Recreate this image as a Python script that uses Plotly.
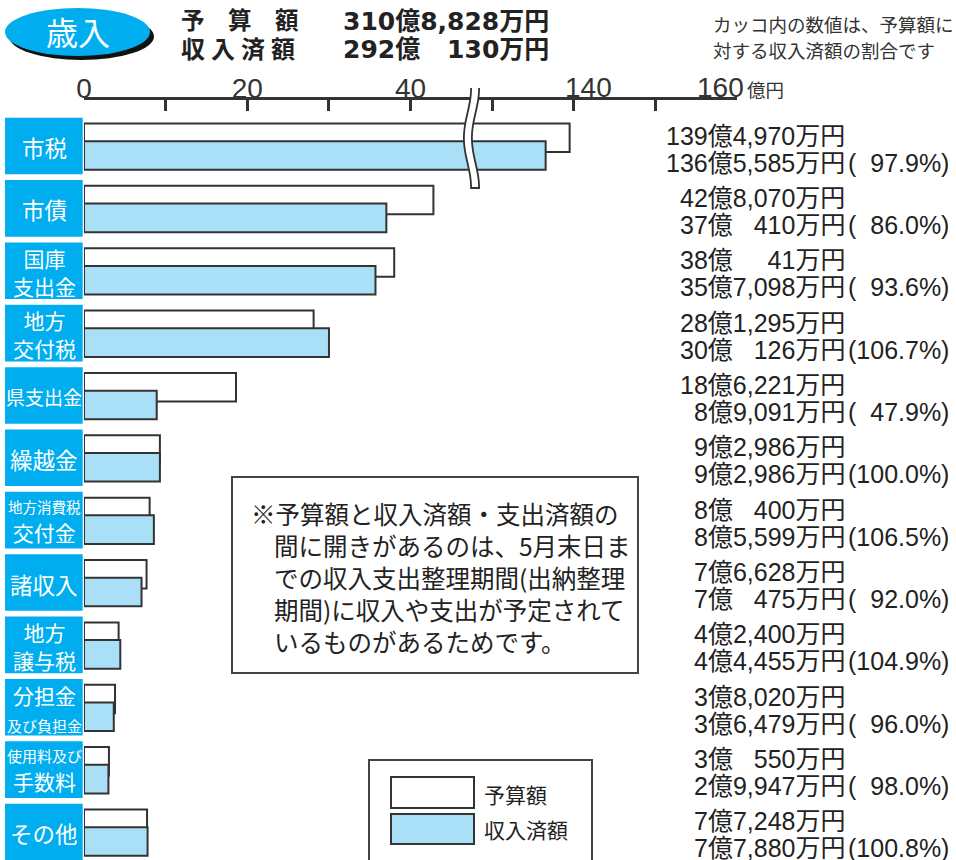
import math
import plotly.graph_objects as go

# ---------------- data ----------------
categories = ["市税", "市債", "国庫支出金", "地方交付税", "県支出金", "繰越金",
              "地方消費税交付金", "諸収入", "地方譲与税", "分担金及び負担金",
              "使用料及び手数料", "その他"]
label_lines = [["市税"], ["市債"], ["国庫", "支出金"], ["地方", "交付税"], ["県支出金"],
               ["繰越金"], ["地方消費税", "交付金"], ["諸収入"], ["地方", "譲与税"],
               ["分担金", "及び負担金"], ["使用料及び", "手数料"], ["その他"]]
# amounts in 億円
budget = [139.4970, 42.8070, 38.0041, 28.1295, 18.6221, 9.2986,
          8.0400, 7.6628, 4.2400, 3.8020, 3.0550, 7.7248]
actual = [136.5585, 37.0410, 35.7098, 30.0126, 8.9091, 9.2986,
          8.5599, 7.0475, 4.4455, 3.6479, 2.9947, 7.7880]
ratio_pct = ["97.9", "86.0", "93.6", "106.7", "47.9", "100.0",
             "106.5", "92.0", "104.9", "96.0", "98.0", "100.8"]
total_budget = 310.8828
total_actual = 292.0130
major_tick_values = [0, 20, 40, 140, 160]
minor_tick_values = [0, 10, 20, 30, 40, 130, 140, 150, 160]
break_lo, break_hi = 48, 128   # axis break (values skipped)

# ---------------- styles ----------------
BOX_BLUE = "#00aeef"
BAR_BLUE = "#aadff8"
EDGE = "#333333"
JP = "Noto Sans CJK JP"
NUM = "Liberation Sans, Noto Sans CJK JP"
HEAD = "DejaVu Sans, Noto Sans CJK JP"
label_sizes = [[22.5], [22.5], [21, 21], [21, 21], [19], [22.5],
               [14.5, 21], [22.5], [21, 21], [21, 15], [15, 21], [22.5]]

W, H = 956, 860
PL, PT = 84, 100
PW, PH = 653, 760
ROW0, ROWH = 146, 62.36


def vis(v):
    return v if v <= break_lo else v - (break_hi - break_lo)


def px(x):
    return (x - PL) / PW


def py(y):
    return 1 - (y - PT) / PH


def dy(p):
    return p / ROWH


HID = "<span style='color:rgba(0,0,0,0)'>{}</span>"


def fmt_amount(v):
    oku = int(v + 1e-9)
    man = int(round((v - oku) * 10000))
    full = "{:,}".format(man) if man >= 1000 else "0," + "{:03d}".format(man)
    visible = "{:,}".format(man)
    hidden = full[:len(full) - len(visible)]
    return "{}億{}{}万円".format(oku, HID.format(hidden) if hidden else "", visible)


def fmt_pct(p):
    pad = 3 - len(p.split(".")[0])
    return "(" + (HID.format("1" * pad) if pad > 0 else "") + p + "%)"


n = len(categories)
fig = go.Figure()
fig.add_trace(go.Bar(
    y=list(range(n)), x=[vis(v) for v in budget], orientation="h",
    width=dy(28.5), offset=dy(-22.5), name="予算額",
    marker=dict(color="white", line=dict(color=EDGE, width=2)),
    hoverinfo="skip", showlegend=False))
fig.add_trace(go.Bar(
    y=list(range(n)), x=[vis(v) for v in actual], orientation="h",
    width=dy(28.6), offset=dy(-4.8), name="収入済額",
    marker=dict(color=BAR_BLUE, line=dict(color=EDGE, width=2)),
    hoverinfo="skip", showlegend=False))

shapes = []
annotations = []


def ann(text, x, y, size, color="#222", family=JP, xanchor="left",
        yanchor="middle", xref="paper", yref="paper", align="left"):
    annotations.append(dict(text=text, x=x, y=y, xref=xref, yref=yref,
                            xanchor=xanchor, yanchor=yanchor, showarrow=False,
                            align=align, borderpad=0,
                            font=dict(size=size, color=color, family=family)))


# category boxes + labels, value texts
for i in range(n):
    shapes.append(dict(type="rect", xref="paper", yref="y",
                       x0=px(5), x1=px(82.7), y0=i - dy(28.3), y1=i + dy(28.3),
                       fillcolor=BOX_BLUE, line=dict(width=0), layer="above"))
    lines = label_lines[i]
    sizes = label_sizes[i]
    if len(lines) == 1:
        txt = lines[0]
    else:
        txt = "<br>".join("<span style='font-size:{}px'>{}</span>".format(s, l)
                          for l, s in zip(lines, sizes))
    ann(txt, px(44), i + dy(1), max(sizes) if len(lines) == 1 else 21.5,
        color="white", xanchor="center", yref="y", align="center")
    ann(fmt_amount(budget[i]), px(846), i + dy(-10.5), 25, color="#222",
        family=NUM, xanchor="right", yref="y")
    ann(fmt_amount(actual[i]), px(846), i + dy(16.5), 25, color="#222",
        family=NUM, xanchor="right", yref="y")
    ann(fmt_pct(ratio_pct[i]), px(847), i + dy(16.5), 25, color="#222",
        family=NUM, xanchor="left", yref="y")

# axis break squiggle
top, bot = 88, 188
pts = []
N = 40
for k in range(N + 1):
    yy = top + (bot - top) * k / N
    cx = 471.5 + 3.6 * math.cos(2 * math.pi * (yy - top) / (bot - top))
    pts.append((cx, yy))
left = [(cx - 4, yy) for cx, yy in pts]
right = [(cx + 4, yy) for cx, yy in pts]


def path(points, close=False):
    s = "M " + " L ".join("{:.5f},{:.5f}".format(px(a), py(b)) for a, b in points)
    return s + (" Z" if close else "")


shapes.append(dict(type="path", xref="paper", yref="paper",
                   path=path(left + right[::-1], True),
                   fillcolor="white", line=dict(width=0), layer="above"))
shapes.append(dict(type="path", xref="paper", yref="paper",
                   path=path(left + right[::-1]),
                   line=dict(color=EDGE, width=1.8), layer="above"))

# axis labels after the break
ann(str(major_tick_values[3]), px(588), py(87), 28, color=EDGE,
    family="Liberation Sans", xanchor="center")
ann(str(major_tick_values[4]), px(745), py(87), 28, color=EDGE,
    family="Liberation Sans", xanchor="right")
ann("億円", px(746), py(89), 18.5, color=EDGE, xanchor="left")

# header pill
shapes.append(dict(type="circle", xref="paper", yref="paper",
                   x0=px(9), x1=px(154), y0=py(13), y1=py(60),
                   fillcolor="#111", line=dict(width=0), layer="above"))
shapes.append(dict(type="circle", xref="paper", yref="paper",
                   x0=px(5), x1=px(150), y0=py(8), y1=py(56),
                   fillcolor=BOX_BLUE, line=dict(width=0), layer="above"))
ann("歳入", px(78), py(31), 32, color="white", xanchor="center")

# header totals
ann("<b>予\u3000算\u3000額</b>", px(180), py(21), 23.5, color="#222", family=HEAD)
ann("<b>収\u2005入\u2005済\u2005額</b>", px(180), py(50), 24, color="#222", family=HEAD)
ann("<b>" + fmt_amount(total_budget) + "</b>", px(342), py(21), 25, color="#222", family=HEAD)
ann("<b>" + fmt_amount(total_actual) + "</b>", px(342), py(50), 25, color="#222", family=HEAD)

# top right note
ann("カッコ内の数値は、予算額に", px(712), py(24), 18.5, color="#333")
ann("対する収入済額の割合です", px(712), py(50), 18.5, color="#333")

# center note box
shapes.append(dict(type="rect", xref="paper", yref="paper",
                   x0=px(232), x1=px(638), y0=py(477), y1=py(673),
                   fillcolor="white", line=dict(color="#444", width=2), layer="above"))
note_lines = ["※予算額と収入済額・支出済額の",
              "間に開きがあるのは、5月末日ま",
              "での収入支出整理期間(出納整理",
              "期間)に収入や支出が予定されて",
              "いるものがあるためです。"]
for k, t in enumerate(note_lines):
    ann(t, px(250 if k == 0 else 273), py(513 + 32 * k), 24.5, color="#222")

# legend box
shapes.append(dict(type="rect", xref="paper", yref="paper",
                   x0=px(369), x1=px(592), y0=py(760), y1=py(880),
                   fillcolor="white", line=dict(color="#444", width=2), layer="above"))
shapes.append(dict(type="rect", xref="paper", yref="paper",
                   x0=px(391), x1=px(474), y0=py(777), y1=py(808),
                   fillcolor="white", line=dict(color=EDGE, width=2), layer="above"))
shapes.append(dict(type="rect", xref="paper", yref="paper",
                   x0=px(391), x1=px(474), y0=py(814), y1=py(844),
                   fillcolor=BAR_BLUE, line=dict(color=EDGE, width=2), layer="above"))
ann("予算額", px(483), py(794), 21, color="#222")
ann("収入済額", px(483), py(829), 21, color="#222")

fig.update_layout(
    width=W, height=H,
    margin=dict(l=PL, r=W - PL - PW, t=PT, b=H - PT - PH, autoexpand=False),
    paper_bgcolor="white", plot_bgcolor="white",
    barmode="overlay", showlegend=False,
    shapes=shapes, annotations=annotations,
    xaxis=dict(range=[0, 80], side="top", showgrid=False, zeroline=False,
               showline=True, linecolor=EDGE, linewidth=2.5,
               ticks="inside", ticklen=11, tickwidth=2.5, tickcolor=EDGE,
               tickvals=[vis(v) for v in minor_tick_values],
               ticktext=[str(v) if v in major_tick_values[:3] else "" for v in minor_tick_values],
               tickfont=dict(family="Liberation Sans", size=28, color=EDGE),
               ticklabelstandoff=-12,
               fixedrange=True),
    yaxis=dict(range=[(H - ROW0) / ROWH, (PT - ROW0) / ROWH], visible=False,
               fixedrange=True),
)
fig.write_html("out.html", config={"displayModeBar": False},
               post_script="document.body.style.margin='0';document.body.style.padding='0';")
